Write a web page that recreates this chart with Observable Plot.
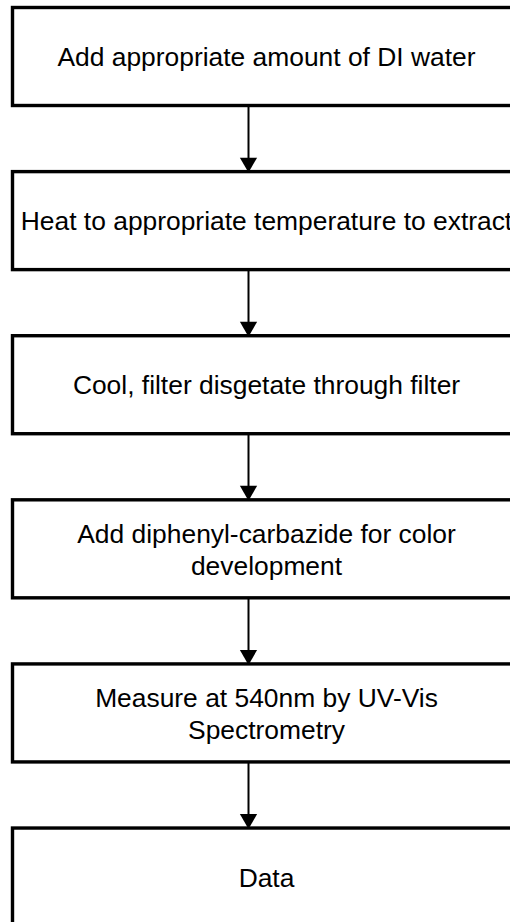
<!DOCTYPE html>
<html>
<head>
<meta charset="utf-8">
<script src="https://cdn.jsdelivr.net/npm/d3@7"></script>
<script src="https://cdn.jsdelivr.net/npm/@observablehq/plot@0.6"></script>
<style>
  html, body { margin: 0; padding: 0; background: #fff; }
  #chart svg { display: block; }
</style>
</head>
<body>
<div id="chart"></div>
<script>
// Flowchart steps (top to bottom)
const steps = [
  "Add appropriate amount of DI water",
  "Heat to appropriate temperature to extract",
  "Cool, filter disgetate through filter",
  "Add diphenyl-carbazide for color\ndevelopment",
  "Measure at 540nm by UV-Vis\nSpectrometry",
  "Data"
];
const stepIndex = steps.map((_, i) => i);
const arrowsFrom = stepIndex.slice(0, -1);

const W = 510, H = 922;
const half = 0.2986;       // half box height in step units
const boxLeft = 12.5, boxRight = 520, textX = 266, arrowX = 248;

const boxes = stepIndex.map(i => ({i, label: steps[i]}));
const arrows = arrowsFrom.map(i => ({from: i, to: i + 1}));

const chart = Plot.plot({
  width: W,
  height: H,
  margin: 0,
  style: {background: "#fff"},
  x: {domain: [0, W], range: [0, W], axis: null},
  y: {domain: [-0.3443, 5.274], range: [0, H], axis: null},
  marks: [
    Plot.rect(boxes, {
      x1: () => boxLeft, x2: () => boxRight,
      y1: d => d.i - half, y2: d => d.i + half,
      fill: "white", stroke: "black", strokeWidth: 3.4
    }),
    Plot.link(arrows, {
      x1: () => arrowX, x2: () => arrowX,
      y1: d => d.from + half, y2: d => d.to - half - 0.06,
      stroke: "black", strokeWidth: 2
    }),
    Plot.dot(arrows, {
      x: () => arrowX, y: d => d.to - half,
      symbol: "triangle", rotate: 180, r: 6.4, dy: -9.5,
      fill: "black", stroke: "none"
    }),
    Plot.text(boxes, {
      x: () => textX, y: d => d.i,
      text: "label",
      fontSize: 26.4, lineHeight: 1.21,
      fontFamily: "'Liberation Sans', Arial, sans-serif",
      fill: "black", textAnchor: "middle", lineAnchor: "middle", dy: -1
    })
  ]
});
document.getElementById("chart").appendChild(chart);
</script>
</body>
</html>
